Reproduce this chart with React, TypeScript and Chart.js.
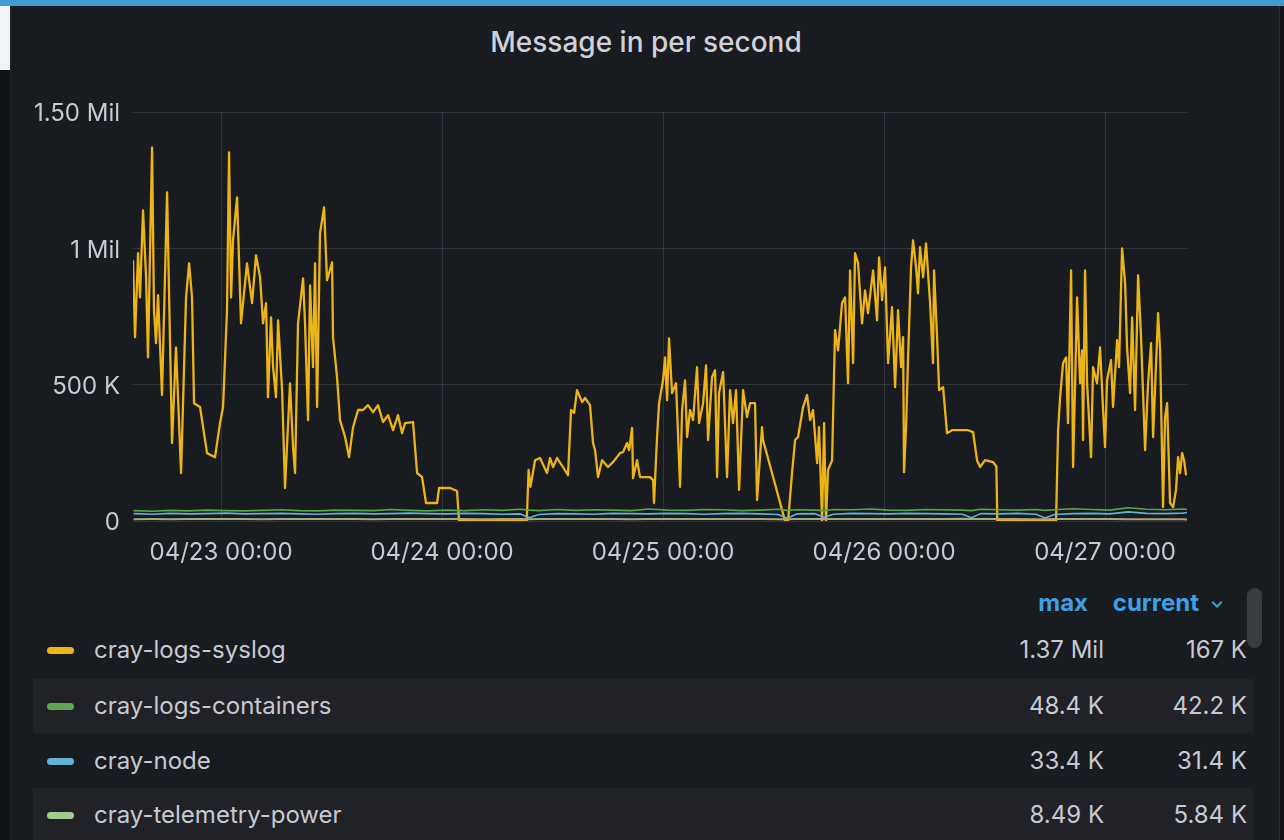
import React, { useEffect, useRef } from "react";
import { Chart, registerables } from "chart.js";

Chart.register(...registerables);

// ---------- data ----------
const chartTitle = "Message in per second";

const xTickHours = [24, 48, 72, 96, 120]; // hours since 04/22 00:00
const xTickLabels = ["04/23 00:00", "04/24 00:00", "04/25 00:00", "04/26 00:00", "04/27 00:00"];
const xMinHour = 14.44;
const xMaxHour = 128.9;

const yTickValues = [0, 500000, 1000000, 1500000];
const yTickLabels = ["0", "500 K", "1 Mil", "1.50 Mil"];

const seriesNames = ["cray-logs-syslog", "cray-logs-containers", "cray-node", "cray-telemetry-power"];
const seriesMax = ["1.37 Mil", "48.4 K", "33.4 K", "8.49 K"];
const seriesCurrent = ["167 K", "42.2 K", "31.4 K", "5.84 K"];

// cray-logs-syslog (hours since 04/22 00:00, thousands of messages/s)
const syslogHours = [
  14.44, 14.66, 14.99, 15.2, 15.53, 15.86, 16.07, 16.51, 16.72, 16.94, 17.16, 17.59, 18.14, 18.68, 19.11, 19.66,
  20.2, 20.53, 20.85, 21.07, 21.72, 22.48, 23.35, 23.89, 24.22, 24.65, 24.87, 25.09, 25.3, 25.74, 26.17, 26.82,
  27.37, 27.8, 28.24, 28.56, 28.89, 29.1, 29.43, 29.65, 29.97, 30.19, 30.63, 30.95, 31.49, 31.82, 32.04, 32.36,
  32.91, 33.12, 33.45, 33.67, 33.99, 34.21, 34.43, 34.75, 35.19, 35.51, 36.06, 36.16, 36.6, 36.92, 37.47, 37.9,
  38.34, 38.88, 39.42, 39.96, 40.51, 41.05, 41.59, 42.14, 42.68, 43.22, 43.66, 43.98, 44.85, 45.29, 45.83, 46.26,
  47.46, 47.68, 48.87, 49.63, 49.85, 57.2, 57.4, 57.6, 58.1, 58.64, 59.4, 59.73, 60.06, 60.49, 61.14, 61.68,
  62.01, 62.34, 62.66, 63.21, 63.53, 64.07, 64.4, 64.62, 64.94, 65.38, 66.03, 66.57, 67.33, 67.66, 68.09, 68.31,
  68.64, 68.74, 69.18, 69.5, 70.59, 70.92, 71.02, 71.35, 71.57, 72.0, 72.22, 72.44, 72.65, 72.98, 73.41, 73.85,
  74.07, 74.39, 74.61, 74.93, 75.26, 75.69, 75.91, 76.35, 76.67, 76.89, 77.32, 77.65, 77.87, 78.08, 78.52, 78.95,
  79.28, 79.6, 79.93, 80.26, 80.69, 81.12, 81.45, 81.99, 82.21, 82.75, 82.86, 85.25, 85.58, 86.01, 86.34, 86.66,
  87.21, 87.64, 87.97, 88.29, 88.73, 88.94, 89.27, 89.49, 89.7, 89.92, 90.36, 90.68, 91.01, 91.44, 91.77, 92.09,
  92.31, 92.64, 92.85, 93.18, 93.61, 93.94, 94.26, 94.81, 95.24, 95.46, 95.79, 96.11, 96.44, 96.87, 97.2, 97.52,
  97.85, 98.07, 98.17, 98.39, 98.61, 98.93, 99.15, 99.48, 99.69, 99.91, 100.24, 100.56, 101.0, 101.32, 101.43, 101.76,
  101.98, 102.41, 102.84, 103.39, 104.26, 105.12, 105.67, 106.1, 106.43, 106.97, 107.84, 108.2, 108.3, 114.68, 114.9, 115.12,
  115.44, 115.77, 115.98, 116.31, 116.53, 116.75, 116.96, 117.29, 117.51, 117.61, 117.83, 118.05, 118.48, 118.7, 119.13, 119.46,
  119.79, 120.0, 120.22, 120.65, 120.87, 121.31, 121.52, 121.85, 122.18, 122.39, 122.72, 122.94, 123.26, 123.59, 123.91, 124.35,
  124.67, 125.0, 125.22, 125.76, 125.98, 126.3, 126.52, 126.74, 127.06, 127.39, 127.71, 127.93, 128.15, 128.37, 128.58, 128.8,
];
const syslogK = [
  956, 674, 982, 820, 1139, 894, 600, 1370, 773, 652, 828, 462, 1205, 286, 637, 176,
  820, 945, 820, 432, 418, 249, 234, 359, 418, 773, 1352, 820, 1029, 1187, 725, 945,
  799, 974, 894, 725, 799, 454, 747, 564, 454, 736, 480, 121, 505, 271, 176, 725,
  890, 725, 370, 864, 564, 945, 418, 1055, 1150, 883, 949, 674, 527, 370, 308, 234,
  344, 407, 407, 425, 399, 425, 363, 388, 333, 388, 322, 359, 363, 176, 161, 66,
  66, 121, 121, 110, 0, 0, 187, 125, 223, 231, 176, 231, 198, 231, 198, 168,
  407, 396, 480, 436, 451, 425, 286, 260, 161, 223, 198, 216, 249, 253, 286, 260,
  341, 157, 223, 161, 161, 150, 66, 308, 432, 516, 600, 443, 670, 469, 505, 125,
  407, 516, 308, 407, 370, 564, 359, 432, 571, 297, 527, 553, 161, 469, 546, 161,
  480, 359, 480, 114, 480, 381, 432, 432, 77, 344, 297, 0, 0, 176, 297, 308,
  418, 462, 370, 407, 212, 344, 0, 359, 0, 187, 223, 700, 626, 799, 820, 505,
  919, 579, 982, 945, 725, 846, 762, 919, 736, 967, 810, 930, 579, 784, 491, 773,
  564, 674, 179, 344, 600, 930, 1029, 930, 835, 1004, 894, 1018, 799, 579, 919, 674,
  480, 491, 322, 333, 333, 333, 326, 223, 198, 223, 216, 200, 0, 0, 333, 454,
  579, 600, 359, 919, 198, 505, 820, 505, 626, 297, 919, 505, 234, 564, 505, 637,
  407, 271, 516, 590, 418, 663, 564, 1000, 872, 637, 469, 747, 407, 901, 674, 260,
  505, 652, 308, 762, 626, 51, 381, 432, 66, 51, 114, 234, 176, 249, 223, 167,
];

// the three small series share one time grid (hours since 04/22 00:00)
const smallHours = [
  14.5, 16.5, 18.5, 20.5, 22.5, 24.5, 26.5, 28.5, 30.5, 32.5, 34.5, 36.5, 38.5, 40.5, 42.5, 44.5,
  46.5, 48.5, 50.5, 52.5, 54.5, 56.5, 57.5, 58.5, 60.5, 62.5, 64.5, 66.5, 68.5, 70.5, 72.5, 74.5,
  76.5, 78.5, 80.5, 82.5, 84.5, 85.5, 86.5, 88.5, 89.5, 90.5, 92.5, 94.5, 96.5, 98.5, 100.5, 102.5,
  104.5, 105.5, 106.5, 108.5, 110.5, 112.5, 113.5, 114.5, 116.5, 118.5, 120.5, 122.5, 124.5, 126.5, 128.5, 128.9,
];
const containersK = [
  38, 36, 39, 37, 40, 38, 37, 39, 41, 38, 37, 40, 39, 38, 42, 39,
  37, 40, 38, 41, 39, 43, 40, 38, 42, 39, 41, 40, 38, 44, 40, 39,
  42, 41, 38, 40, 43, 39, 41, 40, 38, 42, 41, 44, 40, 39, 42, 41,
  40, 38, 43, 41, 40, 42, 39, 41, 45, 42, 40, 48.4, 43, 41, 44, 42.2,
];
const nodeK = [
  27, 25, 28, 26, 27, 29, 26, 27, 28, 26, 25, 27, 28, 26, 27, 29,
  27, 26, 28, 27, 25, 26, 12, 24, 27, 26, 25, 28, 27, 26, 28, 27,
  25, 27, 28, 26, 24, 10, 26, 27, 14, 25, 28, 27, 26, 28, 27, 26,
  25, 12, 27, 26, 28, 25, 11, 24, 27, 28, 26, 33.4, 28, 27, 29, 31.4,
];
const powerK = [
  6.5, 7, 6.8, 7.2, 6.9, 7.1, 7.4, 6.8, 7, 7.3, 6.9, 7.1, 7, 6.8, 7.2, 7.5,
  7, 6.9, 7.1, 6.8, 7.2, 7, 6.7, 7.1, 6.9, 7.3, 7.4, 7, 6.8, 7.2, 7.6, 7.1,
  6.9, 7, 7.3, 7.1, 6.8, 6.5, 7, 7.2, 6.9, 7.1, 7.4, 7.2, 6.9, 7.3, 7.1, 7,
  8.49, 7.2, 6.9, 7.1, 7, 6.8, 6.6, 7, 7.2, 6.9, 7.1, 6.8, 6.5, 6.2, 6, 5.84,
];

// ---------- styles ----------
const lineColors = ["#EDB417", "#56A64B", "#5FB2D8", "#A9A77C"];
const swatchColors = ["#EDB417", "#5FA851", "#62B1D6", "#A3CB8C"];
const textColor = "#c8c9d1";
const gridColor = "rgba(204,204,220,0.15)";
const fontFamily = "Inter, 'Noto Sans', sans-serif";

function toPoints(hours: number[], ks: number[]) {
  return hours.map((h, i) => ({ x: h, y: ks[i] * 1000 }));
}

export default function App() {
  const canvasRef = useRef<HTMLCanvasElement>(null);

  useEffect(() => {
    document.body.style.margin = "0";
    document.body.style.background = "#111217";
    const canvas = canvasRef.current;
    if (!canvas) return;
    const common = { pointRadius: 0, tension: 0, fill: false, borderJoinStyle: "round" as const };
    const chart = new Chart(canvas, {
      type: "line",
      data: {
        datasets: [
          { label: seriesNames[0], data: toPoints(syslogHours, syslogK), borderColor: lineColors[0], borderWidth: 2.3, order: 3, ...common },
          { label: seriesNames[1], data: toPoints(smallHours, containersK), borderColor: lineColors[1], borderWidth: 1.6, order: 2, ...common },
          { label: seriesNames[2], data: toPoints(smallHours, nodeK), borderColor: lineColors[2], borderWidth: 1.6, order: 1, ...common },
          { label: seriesNames[3], data: toPoints(smallHours, powerK), borderColor: lineColors[3], borderWidth: 2, order: 0, ...common },
        ],
      },
      options: {
        responsive: false,
        animation: false,
        events: [],
        layout: { padding: { top: 32, right: 93, left: 0, bottom: 0 } },
        plugins: { legend: { display: false }, tooltip: { enabled: false }, title: { display: false } },
        scales: {
          x: {
            type: "linear",
            min: xMinHour,
            max: xMaxHour,
            afterBuildTicks: (s: any) => {
              s.ticks = xTickHours.map((v) => ({ value: v }));
            },
            afterFit: (s: any) => {
              s.height = 60;
            },
            ticks: {
              autoSkip: false,
              maxRotation: 0,
              padding: 17,
              color: textColor,
              font: { family: fontFamily, size: 24 },
              callback: (v: any) => {
                const i = xTickHours.indexOf(Number(v));
                return i >= 0 ? xTickLabels[i] : "";
              },
            },
            grid: { color: gridColor, drawTicks: false, lineWidth: 1 },
            border: { display: false },
          },
          y: {
            min: 0,
            max: 1500000,
            afterBuildTicks: (s: any) => {
              s.ticks = yTickValues.map((v) => ({ value: v }));
            },
            afterFit: (s: any) => {
              s.width = 123;
            },
            ticks: {
              padding: 13,
              labelOffset: 2,
              color: textColor,
              font: { family: fontFamily, size: 24 },
              callback: (v: any) => {
                const i = yTickValues.indexOf(Number(v));
                return i >= 0 ? yTickLabels[i] : "";
              },
            },
            grid: { color: gridColor, drawTicks: false, lineWidth: 1 },
            border: { display: false },
          },
        },
      },
    });
    return () => chart.destroy();
  }, []);

  const rowCenters = [651, 707, 762, 816];
  const legendFont = 24;

  return (
    <div style={{ position: "fixed", left: 0, top: 0, width: 1284, height: 840, background: "#111217", overflow: "hidden", fontFamily }}>
      <div style={{ position: "absolute", left: 0, top: 0, width: 1284, height: 6, background: "#419bd2" }} />
      <div style={{ position: "absolute", left: 0, top: 6, width: 10, height: 64, background: "#f2f3f5" }} />
      <div
        style={{
          position: "absolute",
          left: 10,
          top: 6,
          width: 1270,
          height: 834,
          background: "#181b1f",
          borderRight: "1px solid #2c2e34",
          borderLeft: "1px solid #24262b",
          boxSizing: "border-box",
        }}
      />
      <div
        style={{
          position: "absolute",
          left: 10,
          top: 25,
          width: 1272,
          textAlign: "center",
          fontSize: 28,
          lineHeight: "34px",
          color: "#d0d1d8",
          fontWeight: 500,
        }}
      >
        {chartTitle}
      </div>
      <canvas ref={canvasRef} width={1270} height={501} style={{ position: "absolute", left: 10, top: 80, width: 1270, height: 501 }} />

      {/* legend header */}
      <div style={{ position: "absolute", left: 990, top: 588, width: 98, textAlign: "right", fontSize: legendFont, lineHeight: "30px", fontWeight: 700, color: "#3f9fe0" }}>max</div>
      <div style={{ position: "absolute", left: 1090, top: 588, width: 109, textAlign: "right", fontSize: legendFont, lineHeight: "30px", fontWeight: 700, color: "#3f9fe0" }}>
        current
      </div>
      <div style={{ position: "absolute", left: 1209, top: 588, width: 16, textAlign: "center", fontSize: 18, lineHeight: "28px", fontWeight: 700, color: "#3f9fe0" }}>⌄</div>
      <div style={{ position: "absolute", left: 1247, top: 588, width: 15, height: 60, borderRadius: 8, background: "#3a3c42" }} />

      {seriesNames.map((name, i) => (
        <React.Fragment key={name}>
          {i % 2 === 1 && (
            <div style={{ position: "absolute", left: 33, top: rowCenters[i] - 28, width: 1220, height: 54, background: "#202227" }} />
          )}
          <div
            style={{
              position: "absolute",
              left: 47,
              top: rowCenters[i] - 4,
              width: 27,
              height: 7,
              borderRadius: 4,
              background: swatchColors[i],
            }}
          />
          <div style={{ position: "absolute", left: 94, top: rowCenters[i] - 16, fontSize: legendFont, lineHeight: "30px", color: textColor }}>{name}</div>
          <div style={{ position: "absolute", left: 950, top: rowCenters[i] - 16, width: 154, textAlign: "right", fontSize: legendFont, lineHeight: "30px", color: textColor }}>
            {seriesMax[i]}
          </div>
          <div style={{ position: "absolute", left: 1090, top: rowCenters[i] - 16, width: 157, textAlign: "right", fontSize: legendFont, lineHeight: "30px", color: textColor }}>
            {seriesCurrent[i]}
          </div>
        </React.Fragment>
      ))}
    </div>
  );
}
